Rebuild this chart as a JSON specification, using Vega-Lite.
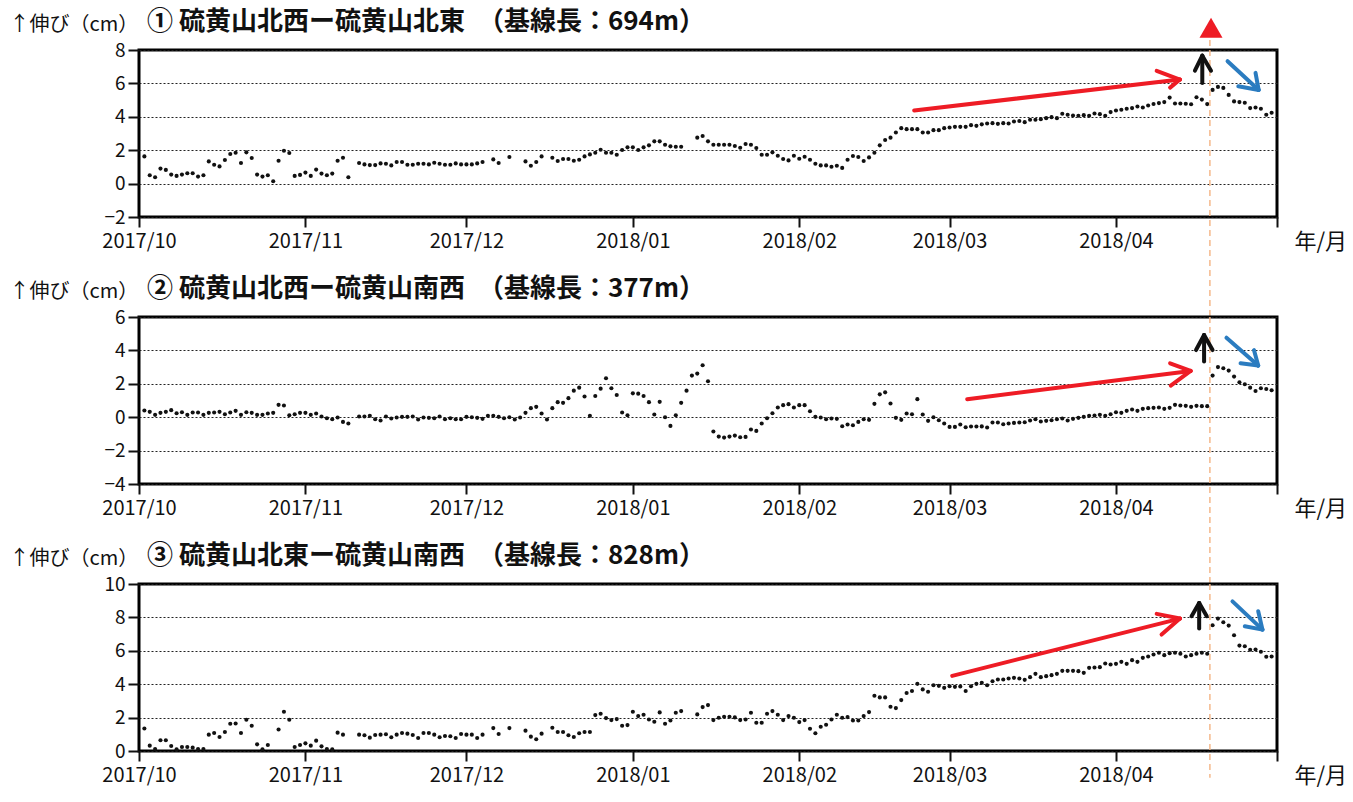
{
  "$schema": "https://vega.github.io/schema/vega-lite/v6.json",
  "padding": {"top": 7, "left": 7, "right": 0, "bottom": 0},
  "background": "white",
  "bounds": "flush",
  "spacing": 100,
  "config": {
    "font": "Noto Sans CJK JP",
    "view": {"stroke": "#000", "strokeWidth": 3},
    "title": {"anchor": "start", "frame": "group", "dx": 8, "offset": -21, "fontSize": 26, "fontWeight": "bold", "color": "#111", "font": "Noto Sans CJK JP"},
    "axis": {"labelFont": "Noto Sans CJK JP", "titleFont": "Noto Sans CJK JP", "labelColor": "#111", "tickColor": "#111", "tickWidth": 2, "domain": false},
    "axisX": {"grid": false, "tickSize": 10, "labelFontSize": 20, "labelPadding": 4, "labelFlush": false, "labelOverlap": false, "labelBound": false},
    "axisY": {"grid": true, "gridDash": [2, 2], "gridColor": "#222", "gridWidth": 1.1, "tickSize": 11, "labelFontSize": 19, "labelPadding": 3,
      "titleAngle": 0, "titleAlign": "left", "titleBaseline": "alphabetic", "titleX": -130, "titleY": -20, "titleFontSize": 20, "titleFontWeight": "normal", "titleColor": "#111"}
  },
  "datasets": {
    "p1": [
      {"date":"2017/10/02","cm":1.63},{"date":"2017/10/03","cm":0.50},{"date":"2017/10/04","cm":0.38},{"date":"2017/10/05","cm":0.90},{"date":"2017/10/06","cm":0.82},{"date":"2017/10/07","cm":0.54},{"date":"2017/10/08","cm":0.46},{"date":"2017/10/09","cm":0.54},{"date":"2017/10/10","cm":0.62},{"date":"2017/10/11","cm":0.62},{"date":"2017/10/12","cm":0.42},{"date":"2017/10/13","cm":0.50},{"date":"2017/10/14","cm":1.33},{"date":"2017/10/15","cm":1.13},{"date":"2017/10/16","cm":1.03},{"date":"2017/10/17","cm":1.41},{"date":"2017/10/18","cm":1.77},{"date":"2017/10/19","cm":1.85},{"date":"2017/10/20","cm":1.23},{"date":"2017/10/21","cm":1.87},{"date":"2017/10/22","cm":1.53},{"date":"2017/10/23","cm":0.54},{"date":"2017/10/24","cm":0.42},{"date":"2017/10/25","cm":0.50},{"date":"2017/10/26","cm":0.14},{"date":"2017/10/27","cm":1.37},{"date":"2017/10/28","cm":1.97},{"date":"2017/10/29","cm":1.83},{"date":"2017/10/30","cm":0.46},{"date":"2017/10/31","cm":0.52},
      {"date":"2017/11/01","cm":0.66},{"date":"2017/11/02","cm":0.46},{"date":"2017/11/03","cm":0.84},{"date":"2017/11/04","cm":0.60},{"date":"2017/11/05","cm":0.50},{"date":"2017/11/06","cm":0.60},{"date":"2017/11/07","cm":1.37},{"date":"2017/11/08","cm":1.55},{"date":"2017/11/09","cm":0.38},{"date":"2017/11/11","cm":1.23},{"date":"2017/11/12","cm":1.15},{"date":"2017/11/13","cm":1.11},{"date":"2017/11/14","cm":1.11},{"date":"2017/11/15","cm":1.21},{"date":"2017/11/16","cm":1.19},{"date":"2017/11/17","cm":1.09},{"date":"2017/11/18","cm":1.29},{"date":"2017/11/19","cm":1.29},{"date":"2017/11/20","cm":1.13},{"date":"2017/11/21","cm":1.13},{"date":"2017/11/22","cm":1.19},{"date":"2017/11/23","cm":1.19},{"date":"2017/11/24","cm":1.15},{"date":"2017/11/25","cm":1.25},{"date":"2017/11/26","cm":1.19},{"date":"2017/11/27","cm":1.13},{"date":"2017/11/28","cm":1.13},{"date":"2017/11/29","cm":1.21},{"date":"2017/11/30","cm":1.15},
      {"date":"2017/12/01","cm":1.15},{"date":"2017/12/02","cm":1.15},{"date":"2017/12/03","cm":1.21},{"date":"2017/12/04","cm":1.29},{"date":"2017/12/06","cm":1.45},{"date":"2017/12/07","cm":1.23},{"date":"2017/12/09","cm":1.59},{"date":"2017/12/12","cm":1.33},{"date":"2017/12/13","cm":1.07},{"date":"2017/12/14","cm":1.29},{"date":"2017/12/15","cm":1.63},{"date":"2017/12/17","cm":1.55},{"date":"2017/12/18","cm":1.35},{"date":"2017/12/19","cm":1.47},{"date":"2017/12/20","cm":1.47},{"date":"2017/12/21","cm":1.37},{"date":"2017/12/22","cm":1.43},{"date":"2017/12/23","cm":1.63},{"date":"2017/12/24","cm":1.75},{"date":"2017/12/25","cm":1.85},{"date":"2017/12/26","cm":2.03},{"date":"2017/12/27","cm":1.85},{"date":"2017/12/28","cm":1.85},{"date":"2017/12/29","cm":1.73},{"date":"2017/12/30","cm":2.01},{"date":"2017/12/31","cm":2.17},
      {"date":"2018/01/01","cm":2.17},{"date":"2018/01/02","cm":2.01},{"date":"2018/01/03","cm":2.17},{"date":"2018/01/04","cm":2.29},{"date":"2018/01/05","cm":2.53},{"date":"2018/01/06","cm":2.53},{"date":"2018/01/07","cm":2.33},{"date":"2018/01/08","cm":2.23},{"date":"2018/01/09","cm":2.21},{"date":"2018/01/10","cm":2.21},{"date":"2018/01/13","cm":2.75},{"date":"2018/01/14","cm":2.85},{"date":"2018/01/15","cm":2.53},{"date":"2018/01/16","cm":2.33},{"date":"2018/01/17","cm":2.33},{"date":"2018/01/18","cm":2.33},{"date":"2018/01/19","cm":2.33},{"date":"2018/01/20","cm":2.25},{"date":"2018/01/21","cm":2.15},{"date":"2018/01/22","cm":2.37},{"date":"2018/01/23","cm":2.33},{"date":"2018/01/24","cm":2.13},{"date":"2018/01/25","cm":1.73},{"date":"2018/01/26","cm":1.73},{"date":"2018/01/27","cm":1.87},{"date":"2018/01/28","cm":1.67},{"date":"2018/01/29","cm":1.47},{"date":"2018/01/30","cm":1.39},{"date":"2018/01/31","cm":1.67},
      {"date":"2018/02/01","cm":1.49},{"date":"2018/02/02","cm":1.61},{"date":"2018/02/03","cm":1.43},{"date":"2018/02/04","cm":1.19},{"date":"2018/02/05","cm":1.09},{"date":"2018/02/06","cm":1.09},{"date":"2018/02/07","cm":1.01},{"date":"2018/02/08","cm":1.07},{"date":"2018/02/09","cm":0.94},{"date":"2018/02/10","cm":1.43},{"date":"2018/02/11","cm":1.65},{"date":"2018/02/12","cm":1.59},{"date":"2018/02/13","cm":1.35},{"date":"2018/02/14","cm":1.57},{"date":"2018/02/15","cm":1.85},{"date":"2018/02/16","cm":2.29},{"date":"2018/02/17","cm":2.61},{"date":"2018/02/18","cm":2.75},{"date":"2018/02/19","cm":3.06},{"date":"2018/02/20","cm":3.32},{"date":"2018/02/21","cm":3.26},{"date":"2018/02/22","cm":3.26},{"date":"2018/02/23","cm":3.26},{"date":"2018/02/24","cm":3.06},{"date":"2018/02/25","cm":3.06},{"date":"2018/02/26","cm":3.20},{"date":"2018/02/27","cm":3.20},{"date":"2018/02/28","cm":3.32},
      {"date":"2018/03/01","cm":3.36},{"date":"2018/03/02","cm":3.40},{"date":"2018/03/03","cm":3.40},{"date":"2018/03/04","cm":3.40},{"date":"2018/03/05","cm":3.50},{"date":"2018/03/06","cm":3.46},{"date":"2018/03/07","cm":3.55},{"date":"2018/03/08","cm":3.60},{"date":"2018/03/09","cm":3.62},{"date":"2018/03/10","cm":3.58},{"date":"2018/03/11","cm":3.62},{"date":"2018/03/12","cm":3.60},{"date":"2018/03/13","cm":3.72},{"date":"2018/03/14","cm":3.75},{"date":"2018/03/15","cm":3.68},{"date":"2018/03/16","cm":3.82},{"date":"2018/03/17","cm":3.82},{"date":"2018/03/18","cm":3.86},{"date":"2018/03/19","cm":3.92},{"date":"2018/03/20","cm":3.98},{"date":"2018/03/21","cm":3.92},{"date":"2018/03/22","cm":4.18},{"date":"2018/03/23","cm":4.12},{"date":"2018/03/24","cm":4.08},{"date":"2018/03/25","cm":4.06},{"date":"2018/03/26","cm":4.10},{"date":"2018/03/27","cm":4.06},{"date":"2018/03/28","cm":4.20},{"date":"2018/03/29","cm":4.16},{"date":"2018/03/30","cm":4.06},{"date":"2018/03/31","cm":4.28},
      {"date":"2018/04/01","cm":4.38},{"date":"2018/04/02","cm":4.42},{"date":"2018/04/03","cm":4.48},{"date":"2018/04/04","cm":4.52},{"date":"2018/04/05","cm":4.62},{"date":"2018/04/06","cm":4.56},{"date":"2018/04/07","cm":4.68},{"date":"2018/04/08","cm":4.77},{"date":"2018/04/09","cm":4.82},{"date":"2018/04/10","cm":4.88},{"date":"2018/04/11","cm":5.15},{"date":"2018/04/12","cm":4.80},{"date":"2018/04/13","cm":4.80},{"date":"2018/04/14","cm":4.78},{"date":"2018/04/15","cm":4.75},{"date":"2018/04/16","cm":5.17},{"date":"2018/04/17","cm":5.03},{"date":"2018/04/18","cm":4.76},{"date":"2018/04/19","cm":5.61},{"date":"2018/04/20","cm":5.79},{"date":"2018/04/21","cm":5.73},{"date":"2018/04/22","cm":5.31},{"date":"2018/04/23","cm":4.92},{"date":"2018/04/24","cm":4.88},{"date":"2018/04/25","cm":4.84},{"date":"2018/04/26","cm":4.52},{"date":"2018/04/27","cm":4.56},{"date":"2018/04/28","cm":4.48},{"date":"2018/04/29","cm":4.12},{"date":"2018/04/30","cm":4.24}
    ],
    "p2": [
      {"date":"2017/10/02","cm":0.40},{"date":"2017/10/03","cm":0.32},{"date":"2017/10/04","cm":0.14},{"date":"2017/10/05","cm":0.26},{"date":"2017/10/06","cm":0.32},{"date":"2017/10/07","cm":0.42},{"date":"2017/10/08","cm":0.24},{"date":"2017/10/09","cm":0.30},{"date":"2017/10/10","cm":0.14},{"date":"2017/10/11","cm":0.28},{"date":"2017/10/12","cm":0.28},{"date":"2017/10/13","cm":0.14},{"date":"2017/10/14","cm":0.26},{"date":"2017/10/15","cm":0.28},{"date":"2017/10/16","cm":0.32},{"date":"2017/10/17","cm":0.18},{"date":"2017/10/18","cm":0.28},{"date":"2017/10/19","cm":0.38},{"date":"2017/10/20","cm":0.14},{"date":"2017/10/21","cm":0.30},{"date":"2017/10/22","cm":0.26},{"date":"2017/10/23","cm":0.14},{"date":"2017/10/24","cm":0.14},{"date":"2017/10/25","cm":0.22},{"date":"2017/10/26","cm":0.26},{"date":"2017/10/27","cm":0.74},{"date":"2017/10/28","cm":0.70},{"date":"2017/10/29","cm":0.12},{"date":"2017/10/30","cm":0.18},{"date":"2017/10/31","cm":0.26},
      {"date":"2017/11/01","cm":0.26},{"date":"2017/11/02","cm":0.14},{"date":"2017/11/03","cm":0.22},{"date":"2017/11/04","cm":0.04},{"date":"2017/11/05","cm":-0.06},{"date":"2017/11/06","cm":-0.12},{"date":"2017/11/07","cm":-0.02},{"date":"2017/11/08","cm":-0.28},{"date":"2017/11/09","cm":-0.38},{"date":"2017/11/11","cm":0.04},{"date":"2017/11/12","cm":0.04},{"date":"2017/11/13","cm":0.08},{"date":"2017/11/14","cm":-0.12},{"date":"2017/11/15","cm":-0.20},{"date":"2017/11/16","cm":0.04},{"date":"2017/11/17","cm":-0.08},{"date":"2017/11/18","cm":-0.02},{"date":"2017/11/19","cm":0.02},{"date":"2017/11/20","cm":0.02},{"date":"2017/11/21","cm":0.04},{"date":"2017/11/22","cm":-0.14},{"date":"2017/11/23","cm":-0.02},{"date":"2017/11/24","cm":-0.04},{"date":"2017/11/25","cm":-0.06},{"date":"2017/11/26","cm":0.04},{"date":"2017/11/27","cm":-0.12},{"date":"2017/11/28","cm":-0.06},{"date":"2017/11/29","cm":-0.12},{"date":"2017/11/30","cm":-0.12},
      {"date":"2017/12/01","cm":0.02},{"date":"2017/12/02","cm":0.00},{"date":"2017/12/03","cm":-0.04},{"date":"2017/12/04","cm":-0.10},{"date":"2017/12/05","cm":0.08},{"date":"2017/12/06","cm":0.08},{"date":"2017/12/07","cm":0.02},{"date":"2017/12/08","cm":-0.06},{"date":"2017/12/09","cm":0.00},{"date":"2017/12/10","cm":-0.14},{"date":"2017/12/11","cm":-0.02},{"date":"2017/12/12","cm":0.26},{"date":"2017/12/13","cm":0.54},{"date":"2017/12/14","cm":0.62},{"date":"2017/12/15","cm":0.22},{"date":"2017/12/16","cm":-0.14},{"date":"2017/12/17","cm":0.54},{"date":"2017/12/18","cm":0.90},{"date":"2017/12/19","cm":0.86},{"date":"2017/12/20","cm":1.14},{"date":"2017/12/21","cm":1.59},{"date":"2017/12/22","cm":1.77},{"date":"2017/12/23","cm":1.24},{"date":"2017/12/24","cm":0.08},{"date":"2017/12/25","cm":1.27},{"date":"2017/12/26","cm":1.71},{"date":"2017/12/27","cm":2.33},{"date":"2017/12/28","cm":1.73},{"date":"2017/12/29","cm":1.33},{"date":"2017/12/30","cm":0.28},{"date":"2017/12/31","cm":0.12},
      {"date":"2018/01/01","cm":1.43},{"date":"2018/01/02","cm":1.41},{"date":"2018/01/03","cm":1.27},{"date":"2018/01/04","cm":0.90},{"date":"2018/01/05","cm":0.16},{"date":"2018/01/06","cm":0.92},{"date":"2018/01/07","cm":0.00},{"date":"2018/01/08","cm":-0.52},{"date":"2018/01/09","cm":0.12},{"date":"2018/01/10","cm":0.86},{"date":"2018/01/11","cm":1.59},{"date":"2018/01/12","cm":2.49},{"date":"2018/01/13","cm":2.61},{"date":"2018/01/14","cm":3.11},{"date":"2018/01/15","cm":2.15},{"date":"2018/01/16","cm":-0.86},{"date":"2018/01/17","cm":-1.16},{"date":"2018/01/18","cm":-1.22},{"date":"2018/01/19","cm":-1.16},{"date":"2018/01/20","cm":-1.10},{"date":"2018/01/21","cm":-1.20},{"date":"2018/01/22","cm":-1.18},{"date":"2018/01/23","cm":-0.74},{"date":"2018/01/24","cm":-0.82},{"date":"2018/01/25","cm":-0.38},{"date":"2018/01/26","cm":-0.06},{"date":"2018/01/27","cm":0.24},{"date":"2018/01/28","cm":0.58},{"date":"2018/01/29","cm":0.72},{"date":"2018/01/30","cm":0.78},{"date":"2018/01/31","cm":0.58},
      {"date":"2018/02/01","cm":0.72},{"date":"2018/02/02","cm":0.72},{"date":"2018/02/03","cm":0.36},{"date":"2018/02/04","cm":0.02},{"date":"2018/02/05","cm":-0.02},{"date":"2018/02/06","cm":-0.12},{"date":"2018/02/07","cm":-0.08},{"date":"2018/02/08","cm":-0.10},{"date":"2018/02/09","cm":-0.54},{"date":"2018/02/10","cm":-0.44},{"date":"2018/02/11","cm":-0.48},{"date":"2018/02/12","cm":-0.28},{"date":"2018/02/13","cm":-0.12},{"date":"2018/02/14","cm":-0.16},{"date":"2018/02/15","cm":0.80},{"date":"2018/02/16","cm":1.37},{"date":"2018/02/17","cm":1.49},{"date":"2018/02/18","cm":0.82},{"date":"2018/02/19","cm":-0.04},{"date":"2018/02/20","cm":-0.16},{"date":"2018/02/21","cm":0.22},{"date":"2018/02/22","cm":0.18},{"date":"2018/02/23","cm":1.08},{"date":"2018/02/24","cm":0.16},{"date":"2018/02/25","cm":-0.22},{"date":"2018/02/26","cm":0.00},{"date":"2018/02/27","cm":-0.18},{"date":"2018/02/28","cm":-0.38},
      {"date":"2018/03/01","cm":-0.58},{"date":"2018/03/02","cm":-0.58},{"date":"2018/03/03","cm":-0.44},{"date":"2018/03/04","cm":-0.60},{"date":"2018/03/05","cm":-0.56},{"date":"2018/03/06","cm":-0.56},{"date":"2018/03/07","cm":-0.55},{"date":"2018/03/08","cm":-0.62},{"date":"2018/03/09","cm":-0.32},{"date":"2018/03/10","cm":-0.32},{"date":"2018/03/11","cm":-0.42},{"date":"2018/03/12","cm":-0.38},{"date":"2018/03/13","cm":-0.34},{"date":"2018/03/14","cm":-0.32},{"date":"2018/03/15","cm":-0.30},{"date":"2018/03/16","cm":-0.20},{"date":"2018/03/17","cm":-0.12},{"date":"2018/03/18","cm":-0.26},{"date":"2018/03/19","cm":-0.22},{"date":"2018/03/20","cm":-0.18},{"date":"2018/03/21","cm":-0.12},{"date":"2018/03/22","cm":-0.08},{"date":"2018/03/23","cm":-0.20},{"date":"2018/03/24","cm":-0.10},{"date":"2018/03/25","cm":-0.04},{"date":"2018/03/26","cm":0.02},{"date":"2018/03/27","cm":0.08},{"date":"2018/03/28","cm":0.10},{"date":"2018/03/29","cm":0.14},{"date":"2018/03/30","cm":0.08},{"date":"2018/03/31","cm":0.18},
      {"date":"2018/04/01","cm":0.30},{"date":"2018/04/02","cm":0.26},{"date":"2018/04/03","cm":0.38},{"date":"2018/04/04","cm":0.46},{"date":"2018/04/05","cm":0.38},{"date":"2018/04/06","cm":0.50},{"date":"2018/04/07","cm":0.54},{"date":"2018/04/08","cm":0.56},{"date":"2018/04/09","cm":0.58},{"date":"2018/04/10","cm":0.50},{"date":"2018/04/11","cm":0.56},{"date":"2018/04/12","cm":0.74},{"date":"2018/04/13","cm":0.70},{"date":"2018/04/14","cm":0.68},{"date":"2018/04/15","cm":0.62},{"date":"2018/04/16","cm":0.68},{"date":"2018/04/17","cm":0.66},{"date":"2018/04/18","cm":0.66},{"date":"2018/04/19","cm":2.49},{"date":"2018/04/20","cm":3.00},{"date":"2018/04/21","cm":2.93},{"date":"2018/04/22","cm":2.79},{"date":"2018/04/23","cm":2.43},{"date":"2018/04/24","cm":2.09},{"date":"2018/04/25","cm":1.97},{"date":"2018/04/26","cm":1.77},{"date":"2018/04/27","cm":1.57},{"date":"2018/04/28","cm":1.73},{"date":"2018/04/29","cm":1.69},{"date":"2018/04/30","cm":1.61}
    ],
    "p3": [
      {"date":"2017/10/02","cm":1.35},{"date":"2017/10/03","cm":0.32},{"date":"2017/10/04","cm":0.12},{"date":"2017/10/05","cm":0.64},{"date":"2017/10/06","cm":0.64},{"date":"2017/10/07","cm":0.30},{"date":"2017/10/08","cm":0.10},{"date":"2017/10/09","cm":0.24},{"date":"2017/10/10","cm":0.24},{"date":"2017/10/11","cm":0.20},{"date":"2017/10/12","cm":0.12},{"date":"2017/10/13","cm":0.12},{"date":"2017/10/14","cm":0.98},{"date":"2017/10/15","cm":1.08},{"date":"2017/10/16","cm":0.84},{"date":"2017/10/17","cm":1.14},{"date":"2017/10/18","cm":1.63},{"date":"2017/10/19","cm":1.65},{"date":"2017/10/20","cm":1.08},{"date":"2017/10/21","cm":1.87},{"date":"2017/10/22","cm":1.51},{"date":"2017/10/23","cm":0.40},{"date":"2017/10/24","cm":0.10},{"date":"2017/10/25","cm":0.36},{"date":"2017/10/27","cm":1.29},{"date":"2017/10/28","cm":2.35},{"date":"2017/10/29","cm":1.87},{"date":"2017/10/30","cm":0.24},{"date":"2017/10/31","cm":0.36},
      {"date":"2017/11/01","cm":0.46},{"date":"2017/11/02","cm":0.32},{"date":"2017/11/03","cm":0.62},{"date":"2017/11/04","cm":0.28},{"date":"2017/11/05","cm":0.12},{"date":"2017/11/06","cm":0.10},{"date":"2017/11/07","cm":1.10},{"date":"2017/11/08","cm":0.98},{"date":"2017/11/11","cm":0.98},{"date":"2017/11/12","cm":0.94},{"date":"2017/11/13","cm":0.80},{"date":"2017/11/14","cm":0.96},{"date":"2017/11/15","cm":0.98},{"date":"2017/11/16","cm":1.00},{"date":"2017/11/17","cm":0.82},{"date":"2017/11/18","cm":0.98},{"date":"2017/11/19","cm":1.08},{"date":"2017/11/20","cm":1.04},{"date":"2017/11/21","cm":0.96},{"date":"2017/11/22","cm":0.78},{"date":"2017/11/23","cm":1.08},{"date":"2017/11/24","cm":1.08},{"date":"2017/11/25","cm":0.98},{"date":"2017/11/26","cm":0.82},{"date":"2017/11/27","cm":0.90},{"date":"2017/11/28","cm":0.88},{"date":"2017/11/29","cm":0.78},{"date":"2017/11/30","cm":1.02},
      {"date":"2017/12/01","cm":0.98},{"date":"2017/12/02","cm":0.98},{"date":"2017/12/03","cm":0.78},{"date":"2017/12/04","cm":0.98},{"date":"2017/12/06","cm":1.37},{"date":"2017/12/07","cm":1.02},{"date":"2017/12/09","cm":1.37},{"date":"2017/12/12","cm":1.22},{"date":"2017/12/13","cm":0.86},{"date":"2017/12/14","cm":0.70},{"date":"2017/12/15","cm":1.04},{"date":"2017/12/17","cm":1.39},{"date":"2017/12/18","cm":1.14},{"date":"2017/12/19","cm":1.14},{"date":"2017/12/20","cm":0.94},{"date":"2017/12/21","cm":0.84},{"date":"2017/12/22","cm":1.06},{"date":"2017/12/23","cm":1.14},{"date":"2017/12/24","cm":1.14},{"date":"2017/12/25","cm":2.15},{"date":"2017/12/26","cm":2.23},{"date":"2017/12/27","cm":1.97},{"date":"2017/12/28","cm":1.85},{"date":"2017/12/29","cm":1.91},{"date":"2017/12/30","cm":1.51},{"date":"2017/12/31","cm":1.55},
      {"date":"2018/01/01","cm":2.35},{"date":"2018/01/02","cm":2.09},{"date":"2018/01/03","cm":2.17},{"date":"2018/01/04","cm":1.89},{"date":"2018/01/05","cm":1.75},{"date":"2018/01/06","cm":2.31},{"date":"2018/01/07","cm":1.63},{"date":"2018/01/08","cm":1.83},{"date":"2018/01/09","cm":2.29},{"date":"2018/01/10","cm":2.39},{"date":"2018/01/13","cm":2.19},{"date":"2018/01/14","cm":2.63},{"date":"2018/01/15","cm":2.75},{"date":"2018/01/16","cm":1.85},{"date":"2018/01/17","cm":1.99},{"date":"2018/01/18","cm":2.05},{"date":"2018/01/19","cm":2.05},{"date":"2018/01/20","cm":2.01},{"date":"2018/01/21","cm":1.85},{"date":"2018/01/22","cm":1.89},{"date":"2018/01/23","cm":2.29},{"date":"2018/01/24","cm":1.69},{"date":"2018/01/25","cm":1.69},{"date":"2018/01/26","cm":2.23},{"date":"2018/01/27","cm":2.39},{"date":"2018/01/28","cm":2.17},{"date":"2018/01/29","cm":1.85},{"date":"2018/01/30","cm":2.09},{"date":"2018/01/31","cm":1.99},
      {"date":"2018/02/01","cm":1.73},{"date":"2018/02/02","cm":1.85},{"date":"2018/02/03","cm":1.33},{"date":"2018/02/04","cm":1.06},{"date":"2018/02/05","cm":1.45},{"date":"2018/02/06","cm":1.57},{"date":"2018/02/07","cm":1.89},{"date":"2018/02/08","cm":2.17},{"date":"2018/02/09","cm":1.99},{"date":"2018/02/10","cm":2.03},{"date":"2018/02/11","cm":1.83},{"date":"2018/02/12","cm":1.83},{"date":"2018/02/13","cm":2.09},{"date":"2018/02/14","cm":2.33},{"date":"2018/02/15","cm":3.31},{"date":"2018/02/16","cm":3.21},{"date":"2018/02/17","cm":3.21},{"date":"2018/02/18","cm":2.65},{"date":"2018/02/19","cm":2.57},{"date":"2018/02/20","cm":3.05},{"date":"2018/02/21","cm":3.47},{"date":"2018/02/22","cm":3.59},{"date":"2018/02/23","cm":4.02},{"date":"2018/02/24","cm":3.69},{"date":"2018/02/25","cm":3.55},{"date":"2018/02/26","cm":3.94},{"date":"2018/02/27","cm":3.90},{"date":"2018/02/28","cm":3.78},
      {"date":"2018/03/01","cm":3.88},{"date":"2018/03/02","cm":3.84},{"date":"2018/03/03","cm":3.86},{"date":"2018/03/04","cm":3.59},{"date":"2018/03/05","cm":3.88},{"date":"2018/03/06","cm":4.02},{"date":"2018/03/07","cm":4.08},{"date":"2018/03/08","cm":3.94},{"date":"2018/03/09","cm":4.18},{"date":"2018/03/10","cm":4.28},{"date":"2018/03/11","cm":4.28},{"date":"2018/03/12","cm":4.34},{"date":"2018/03/13","cm":4.38},{"date":"2018/03/14","cm":4.34},{"date":"2018/03/15","cm":4.26},{"date":"2018/03/16","cm":4.42},{"date":"2018/03/17","cm":4.62},{"date":"2018/03/18","cm":4.42},{"date":"2018/03/19","cm":4.48},{"date":"2018/03/20","cm":4.54},{"date":"2018/03/21","cm":4.62},{"date":"2018/03/22","cm":4.80},{"date":"2018/03/23","cm":4.80},{"date":"2018/03/24","cm":4.80},{"date":"2018/03/25","cm":4.78},{"date":"2018/03/26","cm":4.68},{"date":"2018/03/27","cm":4.98},{"date":"2018/03/28","cm":5.00},{"date":"2018/03/29","cm":5.02},{"date":"2018/03/30","cm":5.24},{"date":"2018/03/31","cm":5.18},
      {"date":"2018/04/01","cm":5.22},{"date":"2018/04/02","cm":5.34},{"date":"2018/04/03","cm":5.22},{"date":"2018/04/04","cm":5.44},{"date":"2018/04/05","cm":5.34},{"date":"2018/04/06","cm":5.58},{"date":"2018/04/07","cm":5.66},{"date":"2018/04/08","cm":5.78},{"date":"2018/04/09","cm":5.88},{"date":"2018/04/10","cm":5.74},{"date":"2018/04/11","cm":5.86},{"date":"2018/04/12","cm":5.88},{"date":"2018/04/13","cm":5.82},{"date":"2018/04/14","cm":5.66},{"date":"2018/04/15","cm":5.74},{"date":"2018/04/16","cm":5.82},{"date":"2018/04/17","cm":5.88},{"date":"2018/04/18","cm":5.82},{"date":"2018/04/19","cm":7.53},{"date":"2018/04/20","cm":7.93},{"date":"2018/04/21","cm":7.71},{"date":"2018/04/22","cm":7.51},{"date":"2018/04/23","cm":6.93},{"date":"2018/04/24","cm":6.31},{"date":"2018/04/25","cm":6.27},{"date":"2018/04/26","cm":6.06},{"date":"2018/04/27","cm":6.08},{"date":"2018/04/28","cm":5.94},{"date":"2018/04/29","cm":5.64},{"date":"2018/04/30","cm":5.66}
    ],
    "eruptionLine": [
      {"panel":1,"date":"2018/04/18 12:00","cm":8.6,"cm2":-7.94},
      {"panel":2,"date":"2018/04/18 12:00","cm":6,"cm2":-10.04},
      {"panel":3,"date":"2018/04/18 12:00","cm":10,"cm2":-1.6}
    ],
    "eruptionMark": [
      {"date":"2018/04/18 17:00","cm":9.33}
    ],
    "arrows": [
      {"panel":1,"kind":"trend","date":"2018/02/22 10:00","cm":4.38,"date2":"2018/04/12 22:00","cm2":6.23},
      {"panel":1,"kind":"trend","date":"2018/04/12 22:00","cm":6.23,"date2":"2018/04/08 14:00","cm2":6.75},
      {"panel":1,"kind":"trend","date":"2018/04/12 22:00","cm":6.23,"date2":"2018/04/11 02:00","cm2":5.75},
      {"panel":1,"kind":"jump","date":"2018/04/17 02:00","cm":6.03,"date2":"2018/04/17 02:00","cm2":7.66},
      {"panel":1,"kind":"jump","date":"2018/04/17 02:00","cm":7.66,"date2":"2018/04/15 17:00","cm2":6.76},
      {"panel":1,"kind":"jump","date":"2018/04/17 02:00","cm":7.66,"date2":"2018/04/18 17:00","cm2":6.76},
      {"panel":1,"kind":"decline","date":"2018/04/21 19:00","cm":7.33,"date2":"2018/04/27 14:00","cm2":5.61},
      {"panel":1,"kind":"decline","date":"2018/04/27 14:00","cm":5.61,"date2":"2018/04/27 00:00","cm2":6.63},
      {"panel":1,"kind":"decline","date":"2018/04/27 14:00","cm":5.61,"date2":"2018/04/23 19:00","cm2":5.83},
      {"panel":2,"kind":"trend","date":"2018/03/04 07:00","cm":1.08,"date2":"2018/04/14 22:00","cm2":2.77},
      {"panel":2,"kind":"trend","date":"2018/04/14 22:00","cm":2.77,"date2":"2018/04/11 02:00","cm2":3.23},
      {"panel":2,"kind":"trend","date":"2018/04/14 22:00","cm":2.77,"date2":"2018/04/11 05:00","cm2":1.89},
      {"panel":2,"kind":"jump","date":"2018/04/17 10:00","cm":3.33,"date2":"2018/04/17 10:00","cm2":4.92},
      {"panel":2,"kind":"jump","date":"2018/04/17 10:00","cm":4.92,"date2":"2018/04/15 22:00","cm2":4.02},
      {"panel":2,"kind":"jump","date":"2018/04/17 10:00","cm":4.92,"date2":"2018/04/19 00:00","cm2":4.02},
      {"panel":2,"kind":"decline","date":"2018/04/21 14:00","cm":4.76,"date2":"2018/04/27 12:00","cm2":3.09},
      {"panel":2,"kind":"decline","date":"2018/04/27 12:00","cm":3.09,"date2":"2018/04/26 17:00","cm2":4.02},
      {"panel":2,"kind":"decline","date":"2018/04/27 12:00","cm":3.09,"date2":"2018/04/24 05:00","cm2":3.23},
      {"panel":3,"kind":"trend","date":"2018/03/01 12:00","cm":4.50,"date2":"2018/04/12 22:00","cm2":7.93},
      {"panel":3,"kind":"trend","date":"2018/04/12 22:00","cm":7.93,"date2":"2018/04/08 14:00","cm2":8.21},
      {"panel":3,"kind":"trend","date":"2018/04/12 22:00","cm":7.93,"date2":"2018/04/09 12:00","cm2":6.97},
      {"panel":3,"kind":"jump","date":"2018/04/16 12:00","cm":7.33,"date2":"2018/04/16 12:00","cm2":8.86},
      {"panel":3,"kind":"jump","date":"2018/04/16 12:00","cm":8.86,"date2":"2018/04/15 02:00","cm2":8.07},
      {"panel":3,"kind":"jump","date":"2018/04/16 12:00","cm":8.86,"date2":"2018/04/17 22:00","cm2":8.07},
      {"panel":3,"kind":"decline","date":"2018/04/22 17:00","cm":8.96,"date2":"2018/04/28 07:00","cm2":7.27},
      {"panel":3,"kind":"decline","date":"2018/04/28 07:00","cm":7.27,"date2":"2018/04/27 12:00","cm2":8.37},
      {"panel":3,"kind":"decline","date":"2018/04/28 07:00","cm":7.27,"date2":"2018/04/25 00:00","cm2":7.47}
    ]
  },
  "vconcat": [
    {
      "width": 1138, "height": 167,
      "title": {"text": "① 硫黄山北西ー硫黄山北東　（基線長：694m）"},
      "encoding": {
        "x": {"field": "date", "type": "temporal",
          "scale": {"domain": [{"year": 2017, "month": 10, "date": 1}, {"year": 2018, "month": 5, "date": 1}]},
          "axis": {"title": null, "format": "%Y/%m",
            "values": [{"year": 2017, "month": 10, "date": 1}, {"year": 2017, "month": 11, "date": 1}, {"year": 2017, "month": 12, "date": 1}, {"year": 2018, "month": 1, "date": 1}, {"year": 2018, "month": 2, "date": 1}, {"year": 2018, "month": 3, "date": 1}, {"year": 2018, "month": 4, "date": 1}, {"year": 2018, "month": 5, "date": 1}],
            "labelExpr": "month(datum.value) == 4 ? '年/月' : datum.label",
            "labelAlign": {"condition": {"test": "month(datum.value) == 4", "value": "left"}, "value": "center"},
            "labelFontSize": {"condition": {"test": "month(datum.value) == 4", "value": 22}, "value": 20},
            "labelOffset": {"condition": {"test": "month(datum.value) == 4", "value": 17}, "value": 0}}},
        "y": {"field": "cm", "type": "quantitative", "scale": {"domain": [-2, 8]},
          "axis": {"values": [-2, 0, 2, 4, 6, 8], "title": "↑伸び（cm）"}}
      },
      "layer": [
        {"data": {"name": "p1"}, "mark": {"type": "point", "filled": true, "size": 17, "color": "#111", "opacity": 1}},
        {"data": {"name": "eruptionLine"}, "transform": [{"filter": "datum.panel == 1"}],
          "mark": {"type": "rule", "color": "#f5b88a", "strokeDash": [6, 4], "strokeWidth": 1.5},
          "encoding": {"y2": {"field": "cm2"}}},
        {"data": {"name": "arrows"}, "transform": [{"filter": "datum.panel == 1"}],
          "mark": {"type": "rule", "strokeWidth": 4, "strokeCap": "round"},
          "encoding": {"x2": {"field": "date2"}, "y2": {"field": "cm2"},
            "color": {"field": "kind", "type": "nominal", "legend": null, "scale": {"domain": ["trend", "jump", "decline"], "range": ["#ee1c25", "#111111", "#2b7cc0"]}}}},
        {"data": {"name": "eruptionMark"}, "mark": {"type": "point", "shape": "triangle-up", "filled": true, "size": 529, "color": "#ee1c25", "opacity": 1}}
      ]
    },
    {
      "width": 1138, "height": 167,
      "title": {"text": "② 硫黄山北西ー硫黄山南西　（基線長：377m）"},
      "encoding": {
        "x": {"field": "date", "type": "temporal",
          "scale": {"domain": [{"year": 2017, "month": 10, "date": 1}, {"year": 2018, "month": 5, "date": 1}]},
          "axis": {"title": null, "format": "%Y/%m",
            "values": [{"year": 2017, "month": 10, "date": 1}, {"year": 2017, "month": 11, "date": 1}, {"year": 2017, "month": 12, "date": 1}, {"year": 2018, "month": 1, "date": 1}, {"year": 2018, "month": 2, "date": 1}, {"year": 2018, "month": 3, "date": 1}, {"year": 2018, "month": 4, "date": 1}, {"year": 2018, "month": 5, "date": 1}],
            "labelExpr": "month(datum.value) == 4 ? '年/月' : datum.label",
            "labelAlign": {"condition": {"test": "month(datum.value) == 4", "value": "left"}, "value": "center"},
            "labelFontSize": {"condition": {"test": "month(datum.value) == 4", "value": 22}, "value": 20},
            "labelOffset": {"condition": {"test": "month(datum.value) == 4", "value": 17}, "value": 0}}},
        "y": {"field": "cm", "type": "quantitative", "scale": {"domain": [-4, 6]},
          "axis": {"values": [-4, -2, 0, 2, 4, 6], "title": "↑伸び（cm）"}}
      },
      "layer": [
        {"data": {"name": "p2"}, "mark": {"type": "point", "filled": true, "size": 17, "color": "#111", "opacity": 1}},
        {"data": {"name": "eruptionLine"}, "transform": [{"filter": "datum.panel == 2"}],
          "mark": {"type": "rule", "color": "#f5b88a", "strokeDash": [6, 4], "strokeWidth": 1.5},
          "encoding": {"y2": {"field": "cm2"}}},
        {"data": {"name": "arrows"}, "transform": [{"filter": "datum.panel == 2"}],
          "mark": {"type": "rule", "strokeWidth": 4, "strokeCap": "round"},
          "encoding": {"x2": {"field": "date2"}, "y2": {"field": "cm2"},
            "color": {"field": "kind", "type": "nominal", "legend": null, "scale": {"domain": ["trend", "jump", "decline"], "range": ["#ee1c25", "#111111", "#2b7cc0"]}}}}
      ]
    },
    {
      "width": 1138, "height": 167,
      "title": {"text": "③ 硫黄山北東ー硫黄山南西　（基線長：828m）"},
      "encoding": {
        "x": {"field": "date", "type": "temporal",
          "scale": {"domain": [{"year": 2017, "month": 10, "date": 1}, {"year": 2018, "month": 5, "date": 1}]},
          "axis": {"title": null, "format": "%Y/%m",
            "values": [{"year": 2017, "month": 10, "date": 1}, {"year": 2017, "month": 11, "date": 1}, {"year": 2017, "month": 12, "date": 1}, {"year": 2018, "month": 1, "date": 1}, {"year": 2018, "month": 2, "date": 1}, {"year": 2018, "month": 3, "date": 1}, {"year": 2018, "month": 4, "date": 1}, {"year": 2018, "month": 5, "date": 1}],
            "labelExpr": "month(datum.value) == 4 ? '年/月' : datum.label",
            "labelAlign": {"condition": {"test": "month(datum.value) == 4", "value": "left"}, "value": "center"},
            "labelFontSize": {"condition": {"test": "month(datum.value) == 4", "value": 22}, "value": 20},
            "labelOffset": {"condition": {"test": "month(datum.value) == 4", "value": 17}, "value": 0}}},
        "y": {"field": "cm", "type": "quantitative", "scale": {"domain": [0, 10]},
          "axis": {"values": [0, 2, 4, 6, 8, 10], "title": "↑伸び（cm）"}}
      },
      "layer": [
        {"data": {"name": "p3"}, "mark": {"type": "point", "filled": true, "size": 17, "color": "#111", "opacity": 1}},
        {"data": {"name": "eruptionLine"}, "transform": [{"filter": "datum.panel == 3"}],
          "mark": {"type": "rule", "color": "#f5b88a", "strokeDash": [6, 4], "strokeWidth": 1.5},
          "encoding": {"y2": {"field": "cm2"}}},
        {"data": {"name": "arrows"}, "transform": [{"filter": "datum.panel == 3"}],
          "mark": {"type": "rule", "strokeWidth": 4, "strokeCap": "round"},
          "encoding": {"x2": {"field": "date2"}, "y2": {"field": "cm2"},
            "color": {"field": "kind", "type": "nominal", "legend": null, "scale": {"domain": ["trend", "jump", "decline"], "range": ["#ee1c25", "#111111", "#2b7cc0"]}}}}
      ]
    }
  ]
}
